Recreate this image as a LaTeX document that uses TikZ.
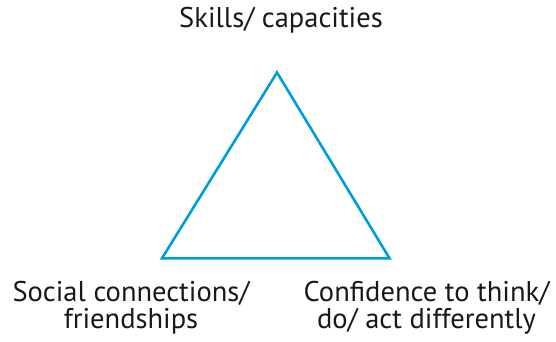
\documentclass[tikz,border=0pt]{standalone}
\usepackage{fontspec}
\setmainfont{PT Sans}
\definecolor{triblue}{RGB}{0,157,220}
\tikzset{
  lbl/.style={font=\fontsize{28.5}{31}\selectfont, align=center, inner sep=0pt, anchor=base, text=black!90},
  tri/.style={draw=triblue, line width=2.6pt, line join=miter}
}
\begin{document}
\begin{tikzpicture}[x=1pt,y=-1pt]
\useasboundingbox (0,0) rectangle (556,342);
\coordinate (A) at (277,72.5);
\coordinate (B) at (162,258.3);
\coordinate (C) at (389.5,258.3);
\draw[tri] (A) -- (B) -- (C) -- cycle;
\node[lbl] (top) at (281,27.7) {Skills/ capacities};
\node[lbl] (left) at (131,301) {Social connections/};
\node[lbl] (left2) at (131,328) {friendships};
\node[lbl] (right) at (426.5,301) {Confidence to think/};
\node[lbl] (right2) at (426.5,328) {do/ act differently};
\end{tikzpicture}
\end{document}
